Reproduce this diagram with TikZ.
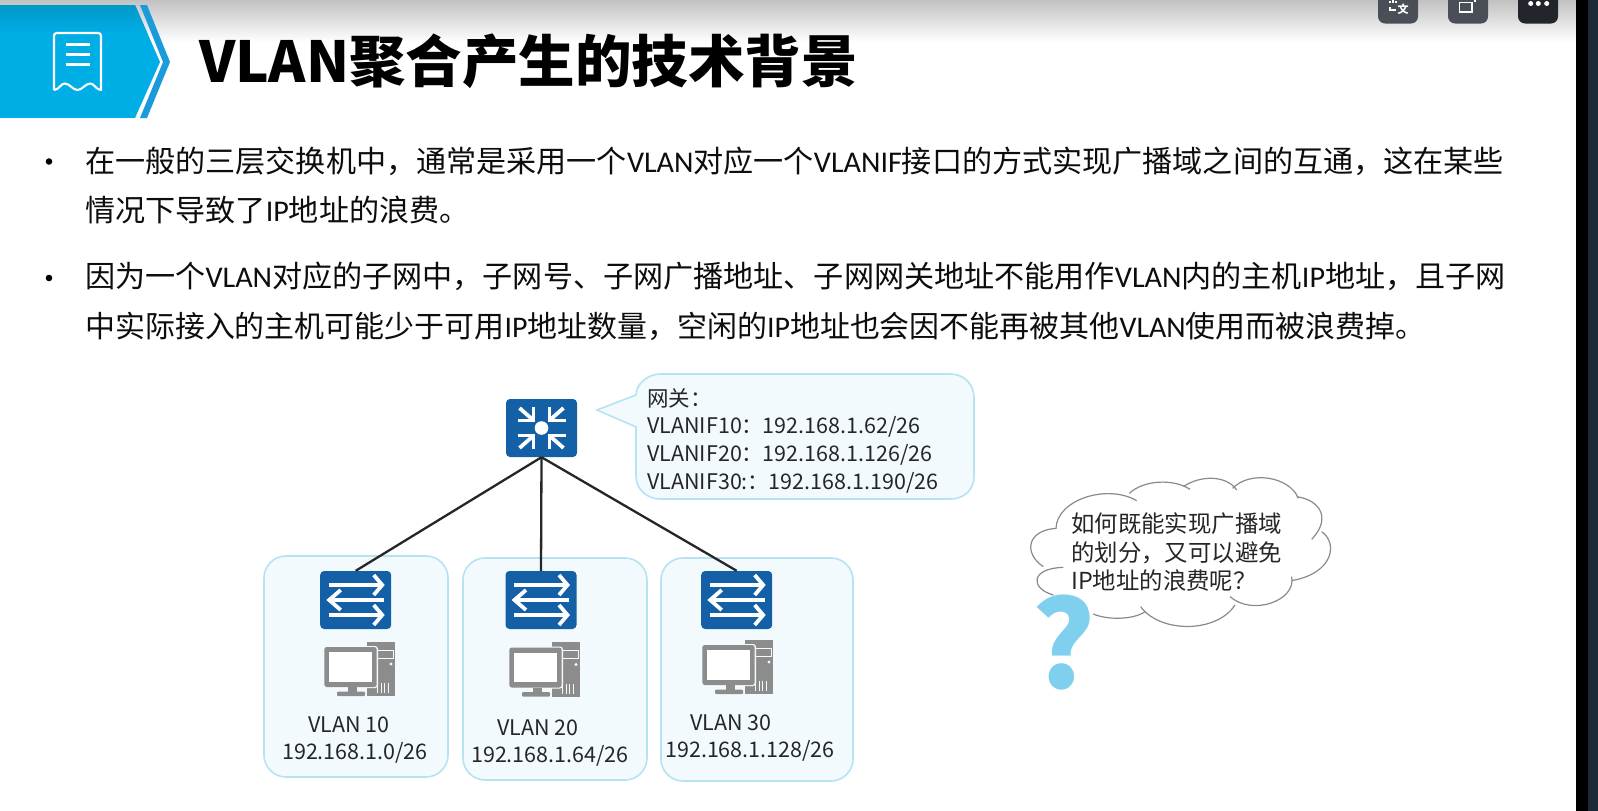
\documentclass[tikz,border=0pt]{standalone}
\usepackage{fontspec}
\setmainfont{Noto Sans CJK SC}
\newfontfamily\latinf{Carlito}
\usetikzlibrary{calc}
\definecolor{hdr}{HTML}{00AEE6}
\definecolor{hdrtop}{HTML}{0098C8}
\definecolor{stripe}{HTML}{1B9BDC}
\definecolor{devblue}{HTML}{1360A6}
\definecolor{boxline}{HTML}{B5E3F2}
\definecolor{boxfill}{HTML}{F3FAFE}
\definecolor{txt}{HTML}{262626}
\definecolor{pcgray}{HTML}{8C8C8C}
\definecolor{qmark}{HTML}{7FD0EE}
\definecolor{btnA}{HTML}{4A4F57}
\definecolor{btnC}{HTML}{22262C}
\definecolor{edge}{HTML}{1C2A38}
\definecolor{cloudline}{HTML}{8A8A8A}
\tikzset{
 x=1pt,y=-1pt,
 bodyline/.style={anchor=base west,inner sep=0,font=\fontsize{30.1}{30}\selectfont,text=black!95},
 vlanbox/.style={draw=boxline,fill=boxfill,line width=1.6pt,rounded corners=22pt,inner sep=0,minimum width=#1},
 lbl/.style={inner sep=0,text=txt,font=\fontsize{21.5}{24}\selectfont},
 cloudlbl/.style={lbl,anchor=west,font=\fontsize{23.4}{25}\selectfont},
 device/.style={fill=devblue,rounded corners=4pt,inner sep=0,minimum width=71pt,minimum height=58pt},
 glyph/.style={draw=white,line width=3.8pt,miter limit=10},
 link/.style={draw=black!85,line width=2.3pt},
 btn/.style={rounded corners=7pt},
 cloudarc/.style={draw=cloudline,line width=1.2pt},
}
% arrows of a switch icon, centred on the point given
\newcommand{\swarrows}[2]{%
 \begin{scope}[shift={(#1,#2)}]
  \draw[glyph] (-27,-15.5) -- (26,-15.5);
  \draw[glyph] (18,-25.5) -- (26.5,-15.5) -- (18,-5.5);
  \draw[glyph] (28,-0.5) -- (-26,-0.5);
  \draw[glyph] (-15,-10.5) -- (-26.5,-0.5) -- (-15,9.5);
  \draw[glyph] (-27,14.5) -- (26,14.5);
  \draw[glyph] (18,4.5) -- (26.5,14.5) -- (18,24.5);
 \end{scope}
}
% pc icon
\newcommand{\pcicon}[2]{%
 \begin{scope}[shift={(#1,#2)}]
  \fill[pcgray] (6.7,-27.3) rectangle (35,27);
  \draw[boxfill,line width=1pt] (13,-19) rectangle (33,-11);
  \fill[boxfill] (31,-5) circle (1.6);
  \foreach \q in {17,20.5,24,27.5}{\fill[boxfill] (\q,14) rectangle (\q+1.4,24);}
  \fill[boxfill,rounded corners=3pt] (-36.5,-23) rectangle (18,19);
  \fill[pcgray,rounded corners=2.5pt] (-35.7,-22) rectangle (16.7,18);
  \fill[white] (-31,-17) rectangle (12.2,12.5);
  \fill[pcgray] (-12,18) rectangle (-3,23);
  \fill[pcgray,rounded corners=1pt] (-23,22.7) rectangle (5,27);
 \end{scope}
}
\begin{document}
\begin{tikzpicture}
\useasboundingbox (0,0) rectangle (1598,811);
\fill[white] (0,0) rectangle (1598,811);
% top shade
\shade[top color=black!24,bottom color=white] (0,0) rectangle (1576,42);
% right edge
\fill[black] (1576,0) rectangle (1588,811);
\fill[edge] (1588,0) rectangle (1598,811);
% buttons
\fill[btn,fill=btnA] (1378,-10) rectangle (1418,23.5);
\fill[btn,fill=btnA] (1448,-10) rectangle (1488,23.5);
\fill[btn,fill=btnC] (1518,-10) rectangle (1558,23.5);
\node[inner sep=0,text=white,font=\fontsize{11}{11}\selectfont\bfseries] (btnAt) at (1403,9) {文};
\draw[white,line width=1.4pt] (1390,1) -- (1390,3) (1393,0) -- (1393,3) (1396,1) -- (1396,3);
\draw[white,line width=1.4pt] (1390,7) -- (1390,10) -- (1396,10);
\draw[white,line width=1.4pt] (1459.5,2.5) rectangle (1472,12);
\draw[white,line width=1.2pt] (1475,0) -- (1475,2);
\fill[white] (1530.7,3.5) circle (2.5) (1538.3,3.5) circle (2.5) (1546.7,3.5) circle (2.5);
% header
\begin{scope}
 \clip (0,5) -- (135,5) -- (160,62) -- (135,118) -- (0,118) -- cycle;
 \fill[hdr] (0,5) rectangle (170,118);
 \shade[top color=hdrtop,bottom color=hdr] (0,5) rectangle (170,34);
\end{scope}
\fill[stripe] (140,5) -- (147,5) -- (170,62) -- (147,118) -- (140,118) -- (163,62) -- cycle;
\draw[white,line width=2.1pt,line join=round] (54,90) -- (54,36) .. controls (54,34) and (55,33) .. (57,33) -- (98,33) .. controls (100,33) and (101,34) .. (101,36) -- (101,90) .. controls (96,90) and (94,83) .. (90,83.5) .. controls (85,84) and (82,90) .. (77.5,90) .. controls (73,90) and (70,84) .. (65,83.5) .. controls (61,83) and (59,90) .. (54,90);
\draw[white,line width=2.1pt] (66,44.5) -- (90,44.5) (66,54.5) -- (90,54.5) (66,64.5) -- (90,64.5);
\node[anchor=base west,inner sep=0,font=\fontsize{56.5}{56}\selectfont\bfseries] (title) at (199,82) {VLAN聚合产生的技术背景};
% bullets
\fill[black] (49,161.5) circle (3.3) (49,278) circle (3.3);
\node[bodyline] (l1) at (85,172) {在一般的三层交换机中，通常是采用一个\latinf VLAN\rmfamily 对应一个\latinf VLANIF\rmfamily 接口的方式实现广播域之间的互通，这在某些};
\node[bodyline] (l2) at (85,221) {情况下导致了\latinf IP\rmfamily 地址的浪费。};
\node[bodyline] (l3) at (85,287) {因为一个\latinf VLAN\rmfamily 对应的子网中，子网号、子网广播地址、子网网关地址不能用作\latinf VLAN\rmfamily 内的主机\latinf IP\rmfamily 地址，且子网};
\node[bodyline,font=\fontsize{29.95}{30}\selectfont] (l4) at (85,337) {中实际接入的主机可能少于可用\latinf IP\rmfamily 地址数量，空闲的\latinf IP\rmfamily 地址也会因不能再被其他\latinf VLAN\rmfamily 使用而被浪费掉。};
% vlan boxes
\node[vlanbox=184pt,minimum height=221pt] (box1) at (356,666.5) {};
\node[vlanbox=184pt,minimum height=222pt] (box2) at (555,669) {};
\node[vlanbox=192pt,minimum height=223pt] (box3) at (757,669.5) {};
% callout
\draw[draw=boxline,fill=boxfill,line width=1.6pt] (636,395) .. controls (636,384) and (648,374) .. (660,374) -- (950,374) .. controls (964,374) and (974,384) .. (974,398) -- (974,476) .. controls (974,490) and (964,499) .. (950,499) -- (660,499) .. controls (648,499) and (636,490) .. (636,476) -- (636,427) -- (597,410) -- cycle;
% devices
\node[device] (core) at (541.5,428) {};
\node[device] (sw1) at (355.7,600) {};
\node[device] (sw2) at (541,600) {};
\node[device] (sw3) at (736.7,600) {};
% core icon
\begin{scope}[shift={(541.5,428)}]
 \fill[white] (0,0) circle (6.8);
 \foreach \sx/\sy in {-1/-1,1/-1,-1/1,1/1}{
  \begin{scope}[xscale=\sx,yscale=\sy]
   \draw[glyph] (24,7.5) -- (8,7.5) -- (8,21);
   \draw[glyph] (9,8.5) -- (22,20);
  \end{scope}
 }
\end{scope}
\draw[link] (core.south) -- (sw1.north);
\draw[link] (core.south) -- (sw2.north);
\draw[link] (core.south) -- (sw3.north);
\swarrows{355.7}{600.5}
\swarrows{541}{600.5}
\swarrows{736.7}{600.5}
\pcicon{360}{669}
\pcicon{545}{669.5}
\pcicon{738}{667}
% labels
\node[lbl,anchor=west] (gw) at (647,398) {网关：};
\node[lbl,anchor=west] (g1) at (647,427) {VLANIF10：\hspace{-0.5pt}192.168.1.62/26};
\node[lbl,anchor=west] (g2) at (647,455) {VLANIF20：\hspace{-0.5pt}192.168.1.126/26};
\node[lbl,anchor=west] (g3) at (647,483) {VLANIF30:：\hspace{-0.5pt}192.168.1.190/26};
\node[lbl] (v1) at (349,725) {VLAN 10};
\node[lbl] (i1) at (355,753) {192.168.1.0/26};
\node[lbl] (v2) at (538,728) {VLAN 20};
\node[lbl] (i2) at (550,756) {192.168.1.64/26};
\node[lbl] (v3) at (731,723) {VLAN 30};
\node[lbl] (i3) at (750,751) {192.168.1.128/26};
% cloud
\begin{scope}[shift={(1010,460)},x=0.33333pt,y=-0.33333pt]
 \draw[cloudarc] (138,205) .. controls (140,120) and (290,70) .. (380,122);
 \draw[cloudarc] (358,100) .. controls (400,60) and (490,55) .. (540,88);
 \draw[cloudarc] (520,80) .. controls (570,45) and (650,45) .. (680,90);
 \draw[cloudarc] (668,85) .. controls (720,30) and (840,50) .. (865,115);
 \draw[cloudarc] (860,110) .. controls (930,120) and (965,175) .. (905,238);
 \draw[cloudarc] (935,215) .. controls (985,250) and (970,340) .. (845,362);
 \draw[cloudarc] (845,350) .. controls (860,420) and (730,470) .. (660,410);
 \draw[cloudarc] (675,435) .. controls (620,520) and (450,520) .. (392,440);
 \draw[cloudarc] (405,455) .. controls (370,480) and (290,480) .. (250,462);
 \draw[cloudarc] (130,405) .. controls (60,385) and (60,325) .. (160,322);
 \draw[cloudarc] (100,320) .. controls (40,280) and (50,210) .. (140,205);
\end{scope}
\node[cloudlbl] (c1) at (1071,524) {如何既能实现广播域};
\node[cloudlbl] (c2) at (1071,553) {的划分，又可以避免};
\node[cloudlbl] (c3) at (1071,581) {IP地址的浪费呢？};
\node[inner sep=0,text=qmark,font=\fontsize{120}{120}\selectfont\bfseries] (q) at (1064,643) {?};
\end{tikzpicture}
\end{document}
